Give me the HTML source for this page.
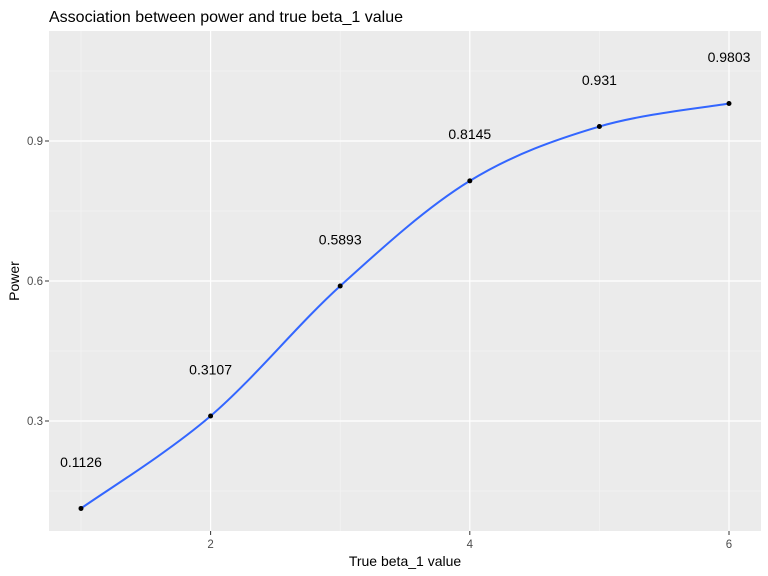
<!DOCTYPE html>
<html><head><meta charset="utf-8"><style>
body{margin:0;background:#fff}
svg{display:block;font-family:"Liberation Sans",sans-serif}
</style></head><body>
<svg id="chart" width="768" height="576">
<rect width="768" height="576" fill="#fff"/>
<text x="49" y="22" font-size="16" fill="#000">Association between power and true beta_1 value</text>
<rect x="49" y="31" width="712" height="500" fill="#ebebeb"/>
<g id="grid"></g><g id="axes"></g><g id="marks"></g>
<text x="405" y="566" font-size="14" text-anchor="middle">True beta_1 value</text>
<text transform="translate(19,281) rotate(-90)" font-size="14" text-anchor="middle">Power</text>
</svg>
<script>
const betas=[1,2,3,4,5,6];
const power=[0.1126,0.3107,0.5893,0.8145,0.931,0.9803];
const labels=["0.1126","0.3107","0.5893","0.8145","0.931","0.9803"];
const xTicks=[2,4,6];
const yTicks=[0.3,0.6,0.9];
const xMinor=[1,3,5];
const yMinor=[0.15,0.45,0.75,1.05];
const X=v=>81+(v-1)*129.6;
const Y=v=>421-(v-0.3)/0.3*140;
const NS="http://www.w3.org/2000/svg";
function mk(t,a,p){const e=document.createElementNS(NS,t);for(const k in a)e.setAttribute(k,a[k]);p.appendChild(e);return e;}
const g=document.getElementById('grid'),ax=document.getElementById('axes'),m=document.getElementById('marks');
xMinor.forEach(v=>{const l=mk('line',{x1:X(v),x2:X(v),y1:31,y2:531,stroke:'#f5f5f5','stroke-width':0.6},g);

});
yMinor.forEach(v=>{if(Y(v)<31||Y(v)>531)return;const l=mk('line',{x1:49,x2:761,y1:Y(v),y2:Y(v),stroke:'#f5f5f5','stroke-width':0.6},g);

});
xTicks.forEach(v=>{const l=mk('line',{x1:X(v),x2:X(v),y1:31,y2:531,stroke:'#fff','stroke-width':1.2},g);


mk('line',{x1:X(v),x2:X(v),y1:531,y2:535,stroke:'#333'},ax);
const t=mk('text',{x:X(v),y:548,'font-size':11.5,fill:'#4d4d4d','text-anchor':'middle'},ax);t.textContent=v;

});
yTicks.forEach(v=>{const l=mk('line',{x1:49,x2:761,y1:Y(v),y2:Y(v),stroke:'#fff','stroke-width':1.2},g);


mk('line',{x1:45,x2:49,y1:Y(v),y2:Y(v),stroke:'#333'},ax);
const t=mk('text',{x:43,y:Y(v)+4,'font-size':11.5,fill:'#4d4d4d','text-anchor':'end'},ax);t.textContent=v.toFixed(1);

});
const P=betas.map((b,i)=>[X(b),Y(power[i])]);
let d=`M${P[0][0]},${P[0][1]}`;
for(let i=0;i<P.length-1;i++){const p0=P[Math.max(0,i-1)],p1=P[i],p2=P[i+1],p3=P[Math.min(P.length-1,i+2)];
d+=` C${p1[0]+(p2[0]-p0[0])/6},${p1[1]+(p2[1]-p0[1])/6} ${p2[0]-(p3[0]-p1[0])/6},${p2[1]-(p3[1]-p1[1])/6} ${p2[0]},${p2[1]}`;}
const c=mk('path',{d:d,fill:'none',stroke:'#3366ff','stroke-width':2},m);


betas.forEach((b,i)=>{const pt=mk('circle',{cx:X(b),cy:Y(power[i]),r:2.5,fill:'#000'},m);


const t=mk('text',{x:X(b),y:Y(power[i]+0.1)+5,'font-size':14,'text-anchor':'middle',fill:'#000'},m);t.textContent=labels[i];

});
</script>
</body></html>
